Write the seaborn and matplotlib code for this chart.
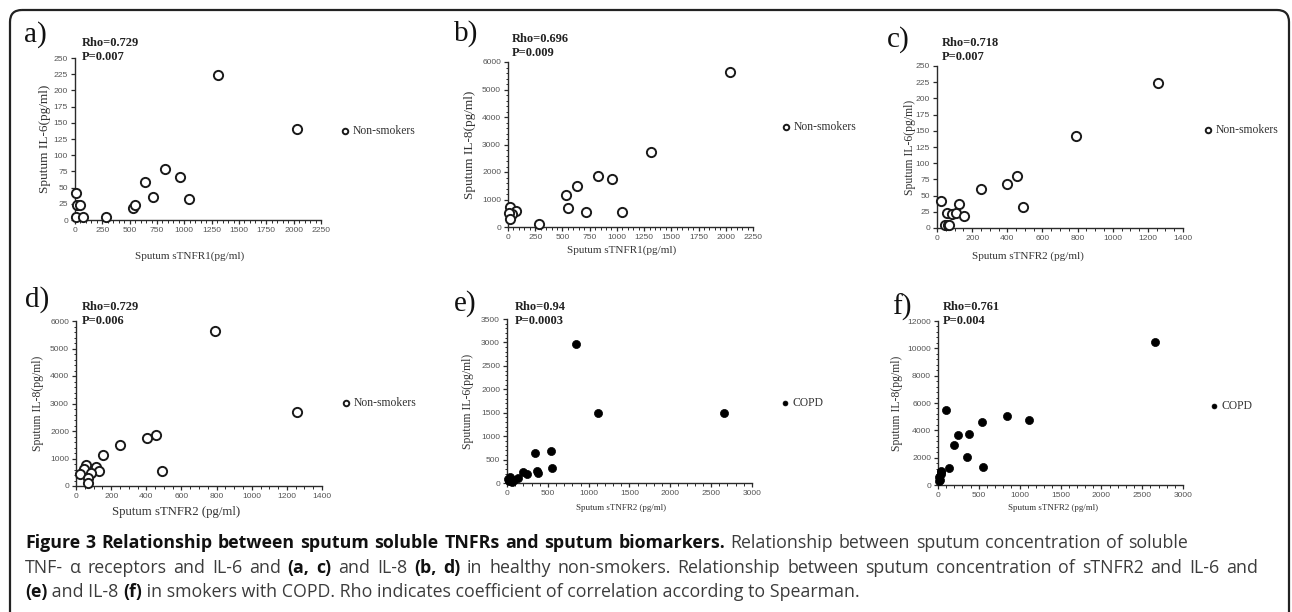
import matplotlib
matplotlib.use("Agg")
import matplotlib.pyplot as plt
from matplotlib.patches import FancyBboxPatch
from matplotlib.ticker import MultipleLocator, AutoMinorLocator
import seaborn as sns

# Non-smokers, sputum sTNFR1 vs IL-6 (a) and IL-8 (b)
a_x = [1310, 2035, 820, 957, 640, 715, 1045, 530, 550, 12, 15, 50, 12, 75, 285]
a_y = [223, 140, 78, 66, 58, 36, 33, 18, 23, 41, 23, 23, 4, 4, 4]
b_x = [2040, 1313, 827, 955, 632, 534, 550, 714, 1044, 287, 15, 70, 40, 10, 15]
b_y = [5640, 2710, 1870, 1750, 1490, 1150, 700, 555, 555, 110, 740, 600, 480, 520, 300]
# Non-smokers, sputum sTNFR2 vs IL-6 (c) and IL-8 (d)
c_x = [1255, 790, 455, 400, 250, 490, 125, 20, 55, 85, 110, 155, 45, 60, 68]
c_y = [224, 142, 80, 68, 60, 33, 37, 42, 23, 21, 23, 18, 4, 4, 4]
d_x = [793, 1256, 455, 402, 250, 156, 491, 114, 131, 59, 46, 23, 85, 70, 66]
d_y = [5620, 2700, 1870, 1730, 1480, 1140, 535, 680, 535, 750, 610, 425, 490, 290, 110]
# COPD, sputum sTNFR2 vs IL-6 (e) and IL-8 (f)
e_x = [845, 1118, 2657, 340, 543, 371, 374, 555, 190, 245, 131, 85, 40, 30, 20, 60, 10]
e_y = [2960, 1500, 1490, 650, 690, 250, 210, 310, 230, 190, 110, 70, 130, 70, 40, 30, 90]
f_x = [2662, 98, 847, 1115, 541, 244, 374, 191, 350, 553, 138, 33, 41, 20, 10, 40, 15]
f_y = [10490, 5480, 5030, 4740, 4620, 3670, 3720, 2960, 2060, 1340, 1240, 1050, 800, 390, 290, 950, 600]

letters = ["a)", "b)", "c)", "d)", "e)", "f)"]
rho_txt = ["Rho=0.729", "Rho=0.696", "Rho=0.718", "Rho=0.729", "Rho=0.94", "Rho=0.761"]
p_txt = ["P=0.007", "P=0.009", "P=0.007", "P=0.006", "P=0.0003", "P=0.004"]
x_labels = ["Sputum sTNFR1(pg/ml)", "Sputum sTNFR1(pg/ml)", "Sputum sTNFR2 (pg/ml)",
            "Sputum sTNFR2 (pg/ml)", "Sputum sTNFR2 (pg/ml)", "Sputum sTNFR2 (pg/ml)"]
y_labels = ["Sputum IL-6(pg/ml)", "Sputum IL-8(pg/ml)", "Sputum IL-6(pg/ml)",
            "Sputum IL-8(pg/ml)", "Sputum IL-6(pg/ml)", "Sputum IL-8(pg/ml)"]
groups = ["Non-smokers", "Non-smokers", "Non-smokers", "Non-smokers", "COPD", "COPD"]
x_max = [2250, 2250, 1400, 1400, 3000, 3000]
x_step = [250, 250, 200, 200, 500, 500]
y_max = [250, 6000, 250, 6000, 3500, 12000]
y_step = [25, 1000, 25, 1000, 500, 2000]

sns.set_theme(style="ticks")
plt.rcParams["font.family"] = ["Liberation Serif", "DejaVu Serif"]

fig = plt.figure(figsize=(12.92, 6.12), dpi=100)
fig.patch.set_facecolor("white")

# background axes in pixel units (origin top-left) for frame and free texts
bg = fig.add_axes([0, 0, 1, 1], zorder=-1)
bg.set_xlim(0, 1292)
bg.set_ylim(612, 0)
bg.axis("off")
bg.add_patch(FancyBboxPatch((10, 10), 1279, 660, boxstyle="round,pad=0,rounding_size=12",
                            fill=False, edgecolor="#222222", linewidth=1.6))

# axes boxes in pixels: left, right, top, bottom
boxes = [(75, 321, 58, 220), (508, 753, 62, 227), (937, 1183, 66, 228),
         (76, 322, 321, 486), (507, 752, 319, 483), (938, 1183, 321, 485)]
letter_pos = [(24, 35), (454, 34), (887, 40), (25, 300), (454, 304), (892, 307)]
rho_pos = [(82, 43), (512, 39), (942, 43), (82, 307), (515, 307), (943, 307)]
xlab_pos = [(190, 256), (622, 250), (1028, 256), (176, 512), (621, 508), (1053, 508)]
xlab_size = [8, 8, 8, 9.2, 6.5, 6.5]
ylab_x = [45, 470, 910, 38, 468, 897]
ylab_size = [9.5, 9.5, 8.5, 8.5, 8.5, 8.5]
leg_pos = [(345, 131), (786, 127), (1208, 130), (346, 403), (785, 403), (1214, 406)]
y_minor = [1, 5, 1, 5, 5, 5]
x_minor = [5, 5, 4, 4, 5, 5]

data = [(a_x, a_y), (b_x, b_y), (c_x, c_y), (d_x, d_y), (e_x, e_y), (f_x, f_y)]

for i, (xs, ys) in enumerate(data):
    L, R, T, B = boxes[i]
    ax = fig.add_axes([L / 1292, 1 - B / 612, (R - L) / 1292, (B - T) / 612])
    ax.patch.set_alpha(0)
    if groups[i] == "COPD":
        sns.scatterplot(x=xs, y=ys, ax=ax, s=34, color="black", edgecolor="black",
                        linewidth=0.5, label=groups[i], clip_on=False, zorder=3)
    else:
        sns.scatterplot(x=xs, y=ys, ax=ax, s=44, color="white", edgecolor="#1a1a1a",
                        linewidth=1.4, label=groups[i], clip_on=False, zorder=3)
    ax.set_xlim(0, x_max[i])
    ax.set_ylim(0, y_max[i])
    ax.xaxis.set_major_locator(MultipleLocator(x_step[i]))
    ax.yaxis.set_major_locator(MultipleLocator(y_step[i]))
    ax.xaxis.set_minor_locator(AutoMinorLocator(x_minor[i]))
    if y_minor[i] > 1:
        ax.yaxis.set_minor_locator(AutoMinorLocator(y_minor[i]))
    for s in ["top", "right"]:
        ax.spines[s].set_visible(False)
    for s in ["left", "bottom"]:
        ax.spines[s].set_color("#2a2a2a")
        ax.spines[s].set_linewidth(1.0)
    ax.tick_params(which="major", direction="out", length=3, width=0.9, color="#2a2a2a",
                   pad=2, labelsize=6.1, labelcolor="#555555")
    ax.tick_params(which="minor", direction="out", length=1.8, width=0.7, color="#2a2a2a")
    for lab in ax.get_xticklabels() + ax.get_yticklabels():
        lab.set_family(["Liberation Sans", "DejaVu Sans"])

    ax.set_xlabel(x_labels[i], fontsize=xlab_size[i], color="#333333", va="center")
    cx, cy = xlab_pos[i]
    ax.xaxis.set_label_coords((cx - L) / (R - L), (B - cy) / (B - T))
    ax.set_ylabel(y_labels[i], fontsize=ylab_size[i], color="#333333", va="center")
    ax.yaxis.set_label_coords((ylab_x[i] - L) / (R - L), 0.5)

    lx, ly = leg_pos[i]
    ax.legend(loc="center left", bbox_to_anchor=(lx - 5, ly), bbox_transform=bg.transData,
              frameon=False, borderpad=0, borderaxespad=0, handlelength=0.8,
              handletextpad=0.3, markerscale=0.6, prop={"family": "Liberation Serif", "size": 8.4},
              labelcolor="#333333")

    px, py = letter_pos[i]
    fig.text(px, py, letters[i], transform=bg.transData, fontsize=21, ha="left", va="center",
             color="#111111")
    rx, ry = rho_pos[i]
    fig.text(rx, ry, rho_txt[i], transform=bg.transData, fontsize=9, fontweight="bold",
             ha="left", va="center", color="#222222")
    fig.text(rx, ry + 14.5, p_txt[i], transform=bg.transData, fontsize=9, fontweight="bold",
             ha="left", va="center", color="#222222")

# caption: bold and regular runs; first two lines are spread word by word to a right edge
cap_font = ["Open Sans", "DejaVu Sans"]
cap_lines = [
    [("Figure 3 Relationship between sputum soluble TNFRs and sputum biomarkers.", "bold"),
     (" Relationship between sputum concentration of soluble", "normal")],
    [("TNF- \u03b1 receptors and IL-6 and ", "normal"), ("(a, c)", "bold"),
     (" and IL-8 ", "normal"), ("(b, d)", "bold"),
     (" in healthy non-smokers. Relationship between sputum concentration of sTNFR2 and IL-6 and", "normal")],
    [("(e)", "bold"), (" and IL-8 ", "normal"), ("(f)", "bold"),
     (" in smokers with COPD. Rho indicates coefficient of correlation according to Spearman.", "normal")],
]
baselines = [548, 573, 597]
line_ends = [1188, 1258, None]
cap_size = 12.8
renderer = fig.canvas.get_renderer()


def width_px(t):
    return t.get_window_extent(renderer).width


def cap_text(x, base, txt, weight):
    return fig.text(x, base, txt, transform=bg.transData, fontsize=cap_size,
                    fontweight=weight, family=cap_font, ha="left", va="baseline",
                    color="#111111" if weight == "bold" else "#3c3c3c")


for parts, base, end in zip(cap_lines, baselines, line_ends):
    if end is None:
        # last line: plain runs with normal spacing
        x = 25
        for txt, weight in parts:
            x += width_px(cap_text(x, base, txt, weight))
        continue
    words, cur = [], []
    for txt, weight in parts:
        for k, piece in enumerate(txt.split(" ")):
            if k > 0 and cur:
                words.append(cur)
                cur = []
            if piece:
                cur.append((piece, weight))
    if cur:
        words.append(cur)
    made = []
    natural = 0
    for w in words:
        segs = []
        for piece, weight in w:
            t = cap_text(0, base, piece, weight)
            segs.append((t, width_px(t)))
            natural += segs[-1][1]
        made.append(segs)
    gap = (end - 25 - natural) / (len(made) - 1)
    x = 25
    for segs in made:
        for t, w in segs:
            t.set_x(x)
            x += w
        x += gap

fig.savefig("out.png", dpi=100)
